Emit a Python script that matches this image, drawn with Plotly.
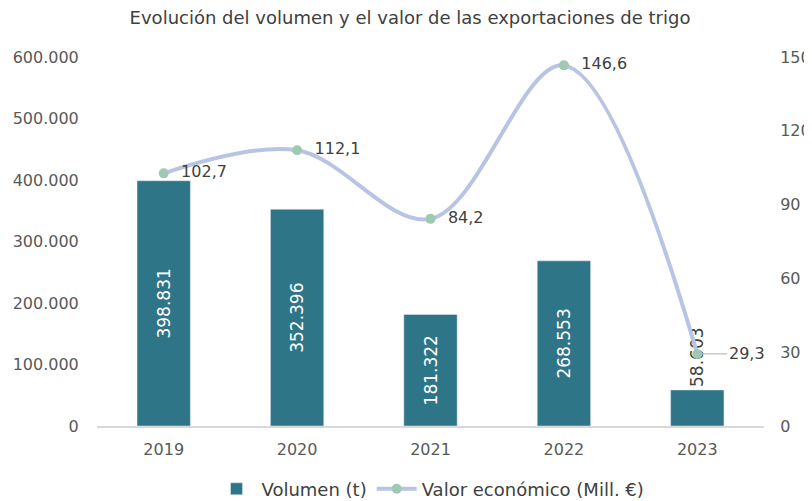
import plotly.graph_objects as go

years = ["2019", "2020", "2021", "2022", "2023"]
volumen = [398831, 352396, 181322, 268553, 58603]
valor = [102.7, 112.1, 84.2, 146.6, 29.3]
left_ticks = [0, 100000, 200000, 300000, 400000, 500000, 600000]
left_labels = ["0", "100.000", "200.000", "300.000", "400.000", "500.000", "600.000"]
right_ticks = [0, 30, 60, 90, 120, 150]

FONT = "DejaVu Sans"
BAR = "#2E7587"
LINE = "#B8C4E4"
MARK = "#9FC9B1"
TXT = "#404040"
TICK = "#595959"

xpos = list(range(len(years)))
bar_text = [f"{v:,}".replace(",", ".") for v in volumen]
val_text = [f"{v:.1f}".replace(".", ",") for v in valor]
pt_text = ["\u00a0\u00a0" + t for t in val_text[:4]] + [""]

fig = go.Figure()
fig.add_trace(go.Bar(
    x=xpos, y=volumen, name="Volumen (t)", marker_color=BAR,
    text=bar_text, textangle=-90,
    textposition=["inside", "inside", "inside", "inside", "outside"],
    insidetextanchor="middle", constraintext="none",
    insidetextfont=dict(color="white", size=17, family=FONT),
    outsidetextfont=dict(color=TXT, size=17, family=FONT),
    cliponaxis=False,
))
fig.add_trace(go.Scatter(
    x=xpos, y=valor, name="Valor económico (Mill. €)", yaxis="y2",
    mode="lines+markers+text",
    line=dict(color=LINE, width=4, shape="spline", smoothing=1.0),
    marker=dict(color=MARK, size=10),
    text=pt_text, textposition="middle right",
    textfont=dict(color=TXT, size=16, family=FONT),
    cliponaxis=False,
))
fig.add_annotation(
    x=xpos[4], y=valor[4], yref="y2", xref="x", text=val_text[4],
    showarrow=True, arrowhead=0, arrowwidth=1.2, arrowcolor="#BFBFBF",
    ax=30, ay=0, xanchor="left", standoff=5,
    font=dict(color=TXT, size=16, family=FONT),
)

fig.update_layout(
    width=804, height=493,
    margin=dict(l=89, r=48, t=49, b=75, autoexpand=False),
    paper_bgcolor="white", plot_bgcolor="white",
    font=dict(family=FONT, color=TICK, size=16),
    title=dict(text="Evolución del volumen y el valor de las exportaciones de trigo",
               x=0.5, xanchor="center", y=0.98, yanchor="middle",
               font=dict(size=18, color=TXT, family=FONT)),
    separators=",.",
    bargap=0.6,
    xaxis=dict(range=[-0.5, 4.5], tickvals=xpos, ticktext=years, automargin=False,
               showline=True, linecolor="#D9D9D9", linewidth=1.5,
               ticks="outside", ticklen=8, tickcolor="rgba(0,0,0,0)",
               showgrid=False, zeroline=False,
               tickfont=dict(size=16, color=TICK)),
    yaxis=dict(range=[0, 600000], tickvals=left_ticks, ticktext=left_labels, automargin=False,
               showgrid=False, zeroline=False, showline=False,
               tickfont=dict(size=16, color=TICK), ticklen=14, ticks="outside",
               tickcolor="rgba(0,0,0,0)"),
    yaxis2=dict(range=[0, 150], tickvals=right_ticks, overlaying="y", side="right",
                automargin=False,
                showgrid=False, zeroline=False, showline=False,
                tickfont=dict(size=16, color=TICK), ticklen=12, ticks="outside",
                tickcolor="rgba(0,0,0,0)"),
    legend=dict(orientation="h", x=0.5, xanchor="center", y=-0.171, yanchor="middle",
                font=dict(size=18, color=TXT), itemwidth=40),
    showlegend=True,
)

fig.write_html("out.html")
